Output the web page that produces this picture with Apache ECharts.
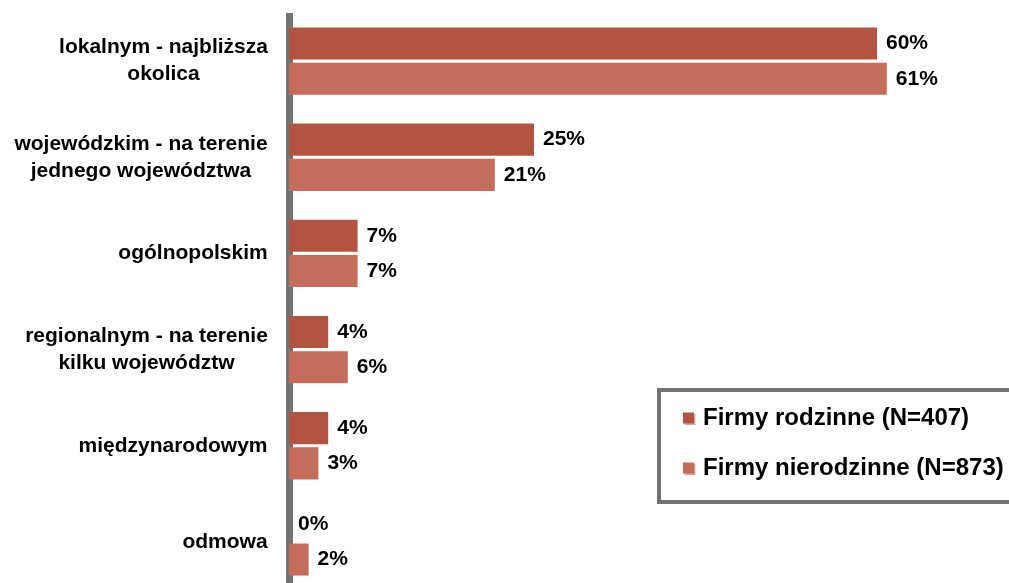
<!DOCTYPE html>
<html>
<head>
<meta charset="utf-8">
<script src="https://cdn.jsdelivr.net/npm/echarts@6/dist/echarts.min.js"></script>
<style>
  html, body { margin: 0; padding: 0; background: #fff; }
  #chart { width: 1009px; height: 583px; }
</style>
</head>
<body>
<div id="chart"></div>
<script>
// Zasięg działalności firm rodzinnych i nierodzinnych (%)
const categories = [
  'lokalnym - najbliższa\nokolica',
  'wojewódzkim - na terenie\njednego województwa',
  'ogólnopolskim',
  'regionalnym - na terenie\nkilku województw',
  'międzynarodowym',
  'odmowa'
];
const seriesNames = ['Firmy rodzinne (N=407)', 'Firmy nierodzinne (N=873)'];
const familyValues = [60, 25, 7, 4, 4, 0];
const nonFamilyValues = [61, 21, 7, 6, 3, 2];

const FONT = '"Liberation Sans", Arial, sans-serif';
const LABEL_SIZE = 21;

// Each multi-line category label is centred line by line inside a box
// as wide as its longest line; the box itself sits right-aligned at the axis.
const measureCtx = document.createElement('canvas').getContext('2d');
measureCtx.font = 'bold ' + LABEL_SIZE + 'px ' + FONT;
const rich = {};
categories.forEach((c, i) => {
  const w = Math.max(...c.split('\n').map(l => measureCtx.measureText(l).width));
  rich['c' + i] = {
    width: Math.ceil(w) + 1,
    align: 'center',
    fontSize: LABEL_SIZE,
    fontWeight: 'bold',
    fontFamily: FONT,
    color: '#000',
    lineHeight: 27
  };
});

const chart = echarts.init(document.getElementById('chart'), null, { renderer: 'canvas' });

const barLabel = {
  show: true,
  position: 'right',
  distance: 9,
  formatter: p => p.value + '%',
  fontSize: LABEL_SIZE,
  fontWeight: 'bold',
  fontFamily: FONT,
  color: '#000'
};

chart.setOption({
  animation: false,
  backgroundColor: '#fff',
  // the plot runs a little past the bottom edge of the canvas
  grid: { left: 289, width: 686, top: 13, height: 577, containLabel: false, outerBoundsMode: 'none' },
  legend: {
    orient: 'vertical',
    left: 659,
    top: 390,
    padding: [16, 40, 22, 24],
    itemGap: 26,
    itemWidth: 11,
    itemHeight: 11,
    icon: 'rect',
    itemStyle: { shadowColor: 'rgba(220,160,150,0.9)', shadowOffsetX: 1.5, shadowOffsetY: 1.5 },
    borderColor: '#737373',
    borderWidth: 4,
    textStyle: { fontSize: 24, fontWeight: 'bold', fontFamily: FONT, color: '#000', padding: [0, 0, 0, 4] },
    data: seriesNames
  },
  xAxis: {
    type: 'value',
    min: 0,
    max: 70,
    show: false
  },
  yAxis: {
    type: 'category',
    inverse: true,
    data: categories,
    offset: 3.5,
    axisLine: { show: true, lineStyle: { color: '#737373', width: 7, cap: 'butt' } },
    axisTick: { show: false },
    splitLine: { show: false },
    axisLabel: {
      margin: 17,
      align: 'right',
      formatter: (v, i) => v.split('\n').map(l => '{c' + i + '|' + l + '}').join('\n'),
      rich: rich
    }
  },
  series: [
    {
      name: seriesNames[0],
      type: 'bar',
      data: familyValues,
      barGap: '10%',
      barCategoryGap: '30%',
      itemStyle: { color: '#B25442' },
      label: barLabel
    },
    {
      name: seriesNames[1],
      type: 'bar',
      data: nonFamilyValues,
      barGap: '10%',
      barCategoryGap: '30%',
      itemStyle: { color: '#C46D5B' },
      label: barLabel
    }
  ]
});
</script>
</body>
</html>
